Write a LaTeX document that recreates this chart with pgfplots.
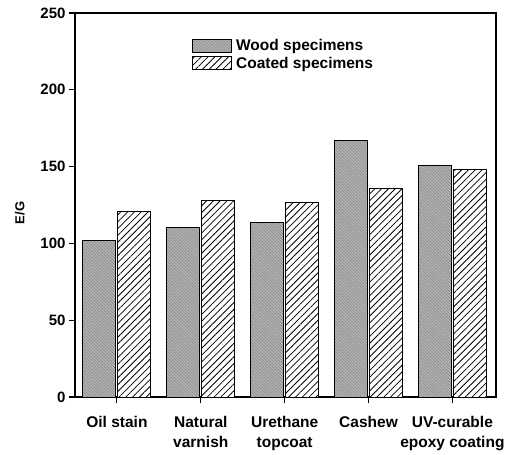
\documentclass[border=0pt]{standalone}
\usepackage{pgfplots}
\pgfplotsset{compat=1.18}
\usepackage{fontspec}
\setmainfont{Liberation Sans}
\usetikzlibrary{patterns.meta}

\begin{document}
\begin{tikzpicture}
  \begin{axis}[
      scale only axis,
      width=421pt,
      height=384pt,
      ybar=2pt,
      bar width=33pt,
      xmin=-0.5, xmax=4.52,
      ymin=0, ymax=250,
      xtick={0,1,2,3,4},
      xticklabels={Oil stain, {Natural\\varnish}, {Urethane\\topcoat}, Cashew, {UV-curable\\epoxy coating}},
      xticklabel style={align=center, font=\fontsize{15.5}{19.5}\selectfont\bfseries, yshift=-10pt},
      ytick={0,50,100,150,200,250},
      yticklabel style={font=\fontsize{15}{16}\selectfont\bfseries},
      ylabel={E/G},
      ylabel style={font=\fontsize{13}{14}\selectfont\bfseries, yshift=9pt, xshift=-8pt},
      xtick pos=bottom, ytick pos=left,
      tick align=outside,
      major tick length=6pt,
      axis line style={line width=1.1pt},
      tick style={line width=1.1pt, black},
      /pgf/number format/assume math mode=true,
      legend style={draw=none, fill=none, at={(0.278,0.934)}, anchor=north west,
        inner xsep=0pt, inner ysep=0pt,
        nodes={inner xsep=4pt, inner ysep=1pt},
        font=\fontsize{15.5}{16}\selectfont\bfseries, row sep=2.5pt,
        legend cell align=left},
      legend image code/.code={\draw[#1] (0pt,-6.7pt) rectangle (39pt,6.7pt);},
    ]
    \addplot[draw=black, line width=0.9pt, fill=gray!60,
      postaction={pattern={Lines[angle=-45,distance=2.2pt,line width=0.5pt]}, pattern color=gray!95}]
      coordinates {(0,101.8) (1,110.5) (2,113.5) (3,166.9) (4,150.6)};
    \addplot[draw=black, line width=0.9pt, fill=white,
      postaction={pattern={Lines[angle=45,distance=4.8pt,line width=0.8pt]}, pattern color=black}]
      coordinates {(0,120.6) (1,127.8) (2,126.5) (3,135.9) (4,148.2)};
    \legend{Wood specimens, Coated specimens}
  \end{axis}
  \path (-75pt,-58pt) rectangle (442pt,397pt);
\end{tikzpicture}
\end{document}
